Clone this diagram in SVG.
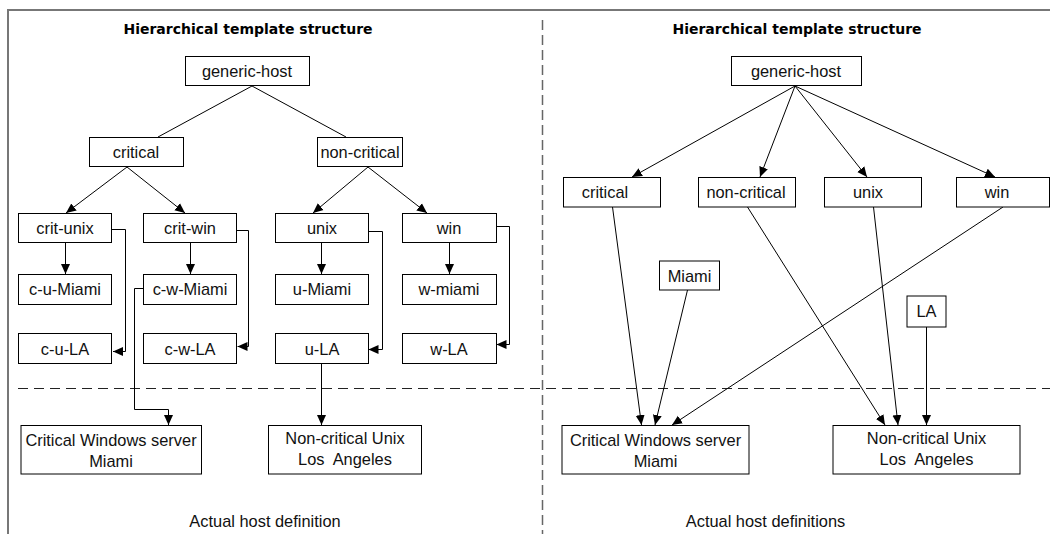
<svg xmlns="http://www.w3.org/2000/svg" width="1050" height="534" viewBox="0 0 1050 534">
<style>
.bx{fill:#fff;stroke:#000;stroke-width:1}
.t{font-family:"Liberation Sans",Arial,sans-serif;font-size:16.4px;fill:#111;text-anchor:middle}
.h{font-family:"DejaVu Sans",sans-serif;font-weight:bold;font-size:14px;fill:#000;text-anchor:middle}
.c{fill:none;stroke:#000;stroke-width:1}
.a{fill:none;stroke:#000;stroke-width:1;marker-end:url(#ah)}
</style>
<defs>
<marker id="ah" markerWidth="10" markerHeight="10" refX="10" refY="5" orient="auto" markerUnits="userSpaceOnUse">
<path d="M0,0.5 L10,5 L0,9.5 z" fill="#000"/>
</marker>
</defs>
<rect width="1050" height="534" fill="#fff"/>
<g id="frame">
<path d="M8,534 V10 H1050" fill="none" stroke="#777" stroke-width="2"/>
<line x1="542.5" y1="20" x2="542.5" y2="534" stroke="#666" stroke-width="1.5" stroke-dasharray="10,5"/>
<line x1="18" y1="388.5" x2="1050" y2="388.5" stroke="#222" stroke-width="1" stroke-dasharray="10,6"/>
</g>
<g id="labels">
<text class="h" x="248" y="34">Hierarchical template structure</text>
<text class="h" x="797" y="34">Hierarchical template structure</text>
<text class="t" x="265" y="527">Actual host definition</text>
<text class="t" x="765.5" y="527">Actual host definitions</text>
</g>
<g id="connectors">
<line class="c" x1="252" y1="86" x2="158" y2="137"/>
<line class="c" x1="252" y1="86" x2="346" y2="137"/>
<line class="a" x1="127" y1="167" x2="66" y2="213"/>
<line class="a" x1="127" y1="167" x2="185" y2="213"/>
<line class="a" x1="368" y1="167" x2="313" y2="213"/>
<line class="a" x1="368" y1="167" x2="427" y2="213"/>
<line class="a" x1="65.5" y1="243" x2="65.5" y2="274"/>
<line class="a" x1="190.5" y1="243" x2="190.5" y2="274"/>
<line class="a" x1="321.5" y1="243" x2="321.5" y2="274"/>
<line class="a" x1="449.5" y1="243" x2="449.5" y2="274"/>
<path class="a" d="M112,229.5 H125.5 V351.5 H113"/>
<path class="a" d="M237,230.5 H248.5 V346.5 H237.5"/>
<path class="a" d="M368,231.5 H382.5 V349.5 H368.5"/>
<path class="a" d="M496,226.5 H509.5 V344.5 H496.5"/>
<path class="a" d="M143,288.5 H134.5 V409.5 H168.5 V425"/>
<line class="a" x1="321.5" y1="364" x2="321.5" y2="425"/>
<line class="a" x1="795" y1="86" x2="632" y2="177"/>
<line class="a" x1="795" y1="86" x2="760" y2="177"/>
<line class="a" x1="795" y1="86" x2="867" y2="177"/>
<line class="a" x1="795" y1="86" x2="995" y2="177"/>
<line class="a" x1="612.5" y1="207" x2="641.5" y2="425"/>
<line class="a" x1="687.5" y1="290" x2="655" y2="425"/>
<line class="a" x1="1003" y1="207" x2="672" y2="425"/>
<line class="a" x1="747.5" y1="207" x2="885" y2="425"/>
<line class="a" x1="873.5" y1="207" x2="898" y2="425"/>
<line class="a" x1="926.5" y1="327" x2="926.5" y2="425"/>
</g>
<g id="L-generic-host"><rect class="bx" x="185.5" y="56.5" width="124" height="29"/><text class="t" x="247" y="77">generic-host</text></g>
<g id="L-critical"><rect class="bx" x="89.5" y="137.5" width="94" height="29"/><text class="t" x="136" y="158">critical</text></g>
<g id="L-non-critical"><rect class="bx" x="317.5" y="137.5" width="85" height="29"/><text class="t" x="360" y="158">non-critical</text></g>
<g id="L-crit-unix"><rect class="bx" x="18.5" y="213.5" width="93" height="29"/><text class="t" x="65" y="234">crit-unix</text></g>
<g id="L-crit-win"><rect class="bx" x="143.5" y="213.5" width="93" height="29"/><text class="t" x="190" y="234">crit-win</text></g>
<g id="L-unix"><rect class="bx" x="275.5" y="213.5" width="93" height="29"/><text class="t" x="322" y="234">unix</text></g>
<g id="L-win"><rect class="bx" x="402.5" y="213.5" width="94" height="29"/><text class="t" x="449" y="234">win</text></g>
<g id="L-c-u-Miami"><rect class="bx" x="18.5" y="274.5" width="93" height="30"/><text class="t" x="65" y="295">c-u-Miami</text></g>
<g id="L-c-w-Miami"><rect class="bx" x="143.5" y="274.5" width="93" height="30"/><text class="t" x="190" y="295">c-w-Miami</text></g>
<g id="L-u-Miami"><rect class="bx" x="275.5" y="274.5" width="93" height="30"/><text class="t" x="322" y="295">u-Miami</text></g>
<g id="L-w-miami"><rect class="bx" x="402.5" y="274.5" width="94" height="30"/><text class="t" x="449" y="295">w-miami</text></g>
<g id="L-c-u-LA"><rect class="bx" x="18.5" y="333.5" width="93" height="30"/><text class="t" x="65" y="355">c-u-LA</text></g>
<g id="L-c-w-LA"><rect class="bx" x="143.5" y="333.5" width="93" height="30"/><text class="t" x="190" y="355">c-w-LA</text></g>
<g id="L-u-LA"><rect class="bx" x="275.5" y="333.5" width="93" height="30"/><text class="t" x="322" y="355">u-LA</text></g>
<g id="L-w-LA"><rect class="bx" x="402.5" y="333.5" width="94" height="30"/><text class="t" x="449" y="355">w-LA</text></g>
<g id="L-crit-win-miami"><rect class="bx" x="21" y="425.5" width="180.5" height="48.5"/><text class="t" x="111" y="446">Critical Windows server</text><text class="t" x="111" y="466.5">Miami</text></g>
<g id="L-noncrit-unix-la"><rect class="bx" x="268.5" y="425.5" width="153" height="48.5"/><text class="t" x="345" y="444">Non-critical Unix</text><text class="t" x="345" y="464.5" xml:space="preserve">Los  Angeles</text></g>
<g id="R-generic-host"><rect class="bx" x="731.5" y="56.5" width="130" height="29"/><text class="t" x="796" y="77">generic-host</text></g>
<g id="R-critical"><rect class="bx" x="563.5" y="177.5" width="97" height="29.5"/><text class="t" x="605" y="198">critical</text></g>
<g id="R-non-critical"><rect class="bx" x="698.5" y="177.5" width="97" height="29.5"/><text class="t" x="746" y="198">non-critical</text></g>
<g id="R-unix"><rect class="bx" x="824.5" y="177.5" width="97" height="29.5"/><text class="t" x="868" y="198">unix</text></g>
<g id="R-win"><rect class="bx" x="956.5" y="177.5" width="93" height="29.5"/><text class="t" x="997" y="198">win</text></g>
<g id="R-Miami"><rect class="bx" x="659.5" y="261" width="60" height="29"/><text class="t" x="689.5" y="281.5">Miami</text></g>
<g id="R-LA"><rect class="bx" x="907" y="296" width="39" height="31"/><text class="t" x="926.5" y="317">LA</text></g>
<g id="R-crit-win-miami"><rect class="bx" x="562" y="425.5" width="187" height="48.5"/><text class="t" x="655.5" y="446">Critical Windows server</text><text class="t" x="655.5" y="466.5">Miami</text></g>
<g id="R-noncrit-unix-la"><rect class="bx" x="833" y="425.5" width="187" height="48.5"/><text class="t" x="926.5" y="444">Non-critical Unix</text><text class="t" x="926.5" y="464.5" xml:space="preserve">Los  Angeles</text></g>
</svg>
